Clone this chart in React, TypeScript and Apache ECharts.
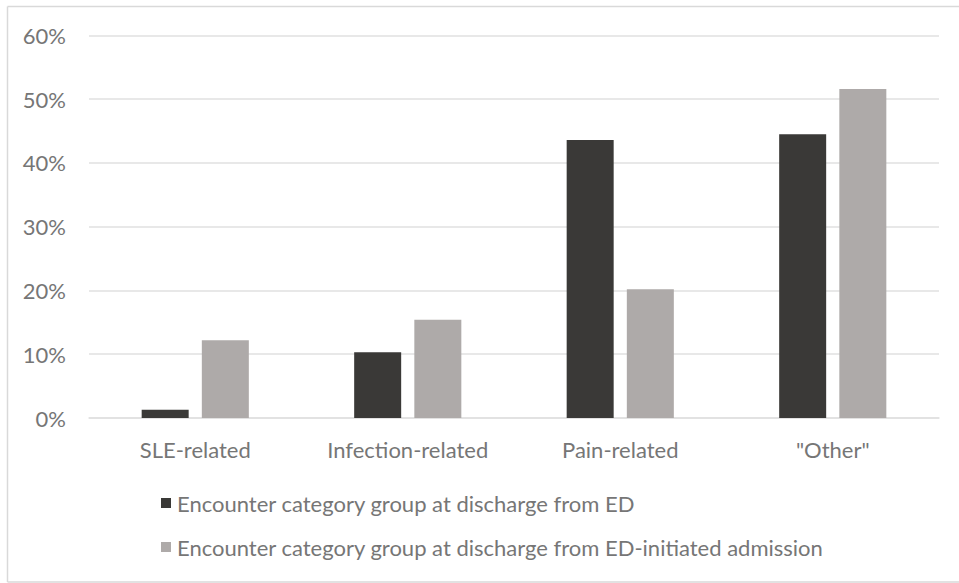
import React, { useEffect, useRef } from "react";
import * as echarts from "echarts";

const categories = ["SLE-related", "Infection-related", "Pain-related", "\"Other\""];
const seriesNames = [
  "Encounter category group at discharge from ED",
  "Encounter category group at discharge from ED-initiated admission",
];
const dischargeED = [1.3, 10.3, 43.6, 44.5];
const dischargeAdmission = [12.2, 15.4, 20.2, 51.6];
const yTicks = { min: 0, max: 60, interval: 10 };

export default function App() {
  const ref = useRef<HTMLDivElement>(null);
  useEffect(() => {
    if (!ref.current) return;
    const chart = echarts.init(ref.current, undefined, { renderer: "svg" });
    const textColor = "#767676";
    const font = "Lato, 'Open Sans', sans-serif";
    const fs = 22;
    chart.setOption({
      animation: false,
      backgroundColor: "#ffffff",
      textStyle: { fontFamily: font },
      graphic: [
        { type: "line", shape: { x1: 7.5, y1: 6.5, x2: 959, y2: 6.5 }, style: { stroke: "#d9d9d9", lineWidth: 1.5 } },
        { type: "line", shape: { x1: 7.5, y1: 6.5, x2: 7.5, y2: 582 }, style: { stroke: "#d9d9d9", lineWidth: 1.5 } },
        { type: "line", shape: { x1: 7.5, y1: 582, x2: 959, y2: 582 }, style: { stroke: "#d9d9d9", lineWidth: 1.5 } },
      ],
      grid: { left: 89, right: 20, top: 35.3, bottom: 165, containLabel: false },
      legend: {
        orient: "vertical",
        left: 156,
        top: 487,
        itemWidth: 10,
        itemHeight: 10,
        itemGap: 22,
        icon: "rect",
        textStyle: { color: textColor, fontSize: fs, fontFamily: font, padding: [0, 0, 0, 1] },
        data: seriesNames,
      },
      xAxis: {
        type: "category",
        data: categories,
        axisLine: { show: true, lineStyle: { color: "#e0e0e0", width: 1.5 } },
        axisTick: { show: false },
        axisLabel: { color: textColor, fontSize: fs, margin: 20, fontFamily: font },
      },
      yAxis: {
        type: "value",
        min: yTicks.min,
        max: yTicks.max,
        interval: yTicks.interval,
        axisLine: { show: false },
        axisTick: { show: false },
        splitLine: { lineStyle: { color: "#e0e0e0", width: 1.5 } },
        axisLabel: { color: textColor, fontSize: fs, margin: 23, formatter: "{value}%", fontFamily: font },
      },
      series: [
        {
          name: seriesNames[0],
          type: "bar",
          data: dischargeED,
          barWidth: 47,
          barGap: "28%",
          itemStyle: { color: "#3a3937" },
        },
        {
          name: seriesNames[1],
          type: "bar",
          data: dischargeAdmission,
          barWidth: 47,
          itemStyle: { color: "#aeaaa9" },
        },
      ],
    });
    return () => chart.dispose();
  }, []);
  return (
    <div
      ref={ref}
      style={{ position: "absolute", left: 0, top: 0, width: 959, height: 583 }}
    />
  );
}
